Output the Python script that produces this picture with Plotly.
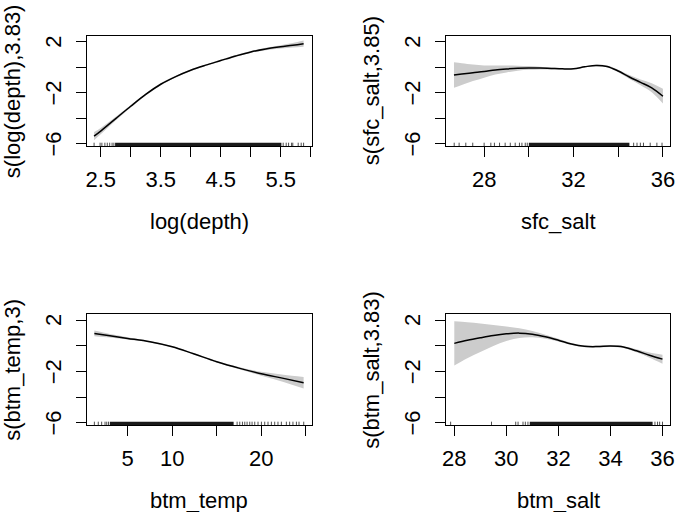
import plotly.graph_objects as go

# ---------------- data ----------------
# Panel 1: s(log(depth),3.83)
depth_x = [2.39, 2.5, 2.75, 3.0, 3.25, 3.5, 3.75, 4.0, 4.25, 4.5, 4.75, 5.0, 5.25, 5.5, 5.7, 5.88]
depth_fit = [-5.40, -5.0, -4.02, -3.05, -2.12, -1.32, -0.72, -0.22, 0.18, 0.54, 0.90, 1.22, 1.45, 1.62, 1.74, 1.87]
depth_se = [0.32, 0.25, 0.15, 0.10, 0.08, 0.07, 0.06, 0.06, 0.06, 0.06, 0.07, 0.08, 0.10, 0.13, 0.18, 0.25]
depth_rug_sparse = [2.39, 2.49, 2.52, 2.57, 2.61, 2.65, 2.69, 2.72, 5.54, 5.59, 5.63, 5.68, 5.70, 5.79, 5.84, 5.88]
depth_rug_dense = [(2.74, 5.51)]

# Panel 2: s(sfc_salt,3.85)
sfc_x = [26.65, 27.0, 27.5, 28.0, 28.5, 29.0, 29.5, 30.0, 30.5, 31.0, 31.5, 32.0, 32.5, 33.0, 33.5, 34.0, 34.5, 35.0, 35.5, 36.0]
sfc_fit = [-0.59, -0.52, -0.42, -0.32, -0.20, -0.12, -0.06, -0.04, -0.05, -0.08, -0.11, -0.10, 0.05, 0.16, 0.08, -0.28, -0.75, -1.17, -1.60, -2.26]
sfc_se = [1.0, 0.85, 0.65, 0.48, 0.36, 0.27, 0.20, 0.15, 0.11, 0.08, 0.06, 0.05, 0.05, 0.06, 0.07, 0.10, 0.15, 0.22, 0.35, 0.58]
sfc_rug_sparse = [26.66, 26.88, 27.18, 27.49, 28.0, 28.3, 28.46, 28.69, 28.94, 29.17, 29.39, 29.58, 29.69, 29.84, 29.93,
                  34.69, 34.84, 34.99, 35.13, 35.43, 35.73, 35.96]
sfc_rug_dense = [(30.0, 34.5)]

# Panel 3: s(btm_temp,3)
temp_x = [1.26, 3.0, 5.0, 7.5, 10.0, 12.4, 15.0, 17.6, 20.0, 22.5, 24.76]
temp_fit = [0.98, 0.79, 0.59, 0.33, -0.06, -0.61, -1.23, -1.75, -2.17, -2.53, -2.87]
temp_se = [0.22, 0.14, 0.09, 0.06, 0.05, 0.05, 0.06, 0.09, 0.15, 0.28, 0.45]
temp_rug_sparse = [1.26, 1.70, 2.08, 2.46, 2.65, 2.85, 17.29, 17.59, 17.89, 18.15, 18.41, 18.71, 18.97, 19.27, 19.64,
                   20.02, 20.39, 20.76, 21.14, 21.51, 21.88, 22.26, 22.82, 23.19, 23.56, 23.95, 24.24, 24.77]
temp_rug_dense = [(3.0, 16.9)]

# Panel 4: s(btm_salt,3.83)
bsalt_x = [28.0, 28.5, 29.0, 29.5, 30.0, 30.5, 31.0, 31.5, 32.0, 32.5, 33.0, 33.5, 34.0, 34.5, 35.0, 35.5, 36.0]
bsalt_fit = [0.20, 0.44, 0.64, 0.82, 0.95, 1.0, 0.92, 0.72, 0.45, 0.15, -0.03, -0.05, -0.01, -0.08, -0.38, -0.72, -1.03]
bsalt_se = [1.72, 1.40, 1.12, 0.82, 0.57, 0.38, 0.25, 0.16, 0.11, 0.08, 0.07, 0.07, 0.07, 0.08, 0.12, 0.20, 0.35]
bsalt_rug_sparse = [27.86, 29.43, 30.36, 30.45, 30.64, 30.73, 30.83, 35.71, 35.81, 35.89, 36.0]
bsalt_rug_dense = [(30.9, 35.62)]

# axis labels / ticks
x_titles = ["log(depth)", "sfc_salt", "btm_temp", "btm_salt"]
y_titles = ["s(log(depth),3.83)", "s(sfc_salt,3.85)", "s(btm_temp,3)", "s(btm_salt,3.83)"]
x_tickvals = [[2.5, 3.0, 3.5, 4.0, 4.5, 5.0, 5.5, 6.0], [28, 30, 32, 34, 36], [5, 10, 15, 20, 25], [28, 30, 32, 34, 36]]
x_ticktext = [["2.5", "", "3.5", "", "4.5", "", "5.5", ""], ["28", "", "32", "", "36"],
              ["5", "10", "", "20", ""], ["28", "30", "32", "34", "36"]]
y_tickvals = [-6, -4, -2, 0, 2]
y_label_vals = [-6, -2, 2]
y_label_text = ["\u22126", "\u22122", "2"]

# ---------------- layout geometry ----------------
W, H = 675, 512
FONT = "Liberation Sans, Arial, Helvetica, sans-serif"
FS = 22
x_ranges = [[2.267, 6.02], [26.28, 36.33], [0.40, 25.7], [27.67, 36.30]]
y_range = [-6.17, 2.47]
col_px = [(86.7, 312.0), (445.7, 670.3)]
row_px = [(36.0, 146.0), (314.3, 425.0)]

panels = [
    (depth_x, depth_fit, depth_se, depth_rug_sparse, depth_rug_dense),
    (sfc_x, sfc_fit, sfc_se, sfc_rug_sparse, sfc_rug_dense),
    (temp_x, temp_fit, temp_se, temp_rug_sparse, temp_rug_dense),
    (bsalt_x, bsalt_fit, bsalt_se, bsalt_rug_sparse, bsalt_rug_dense),
]

fig = go.Figure()
annotations = []
layout = {}
rug_h = 0.03 * (y_range[1] - y_range[0])
tfont = dict(family=FONT, size=FS, color="black")

for i, (xs, fit, se, rug_s, rug_d) in enumerate(panels):
    r, c = divmod(i, 2)
    sfx = "" if i == 0 else str(i + 1)
    xa, ya = "x" + sfx, "y" + sfx
    upper = [f + s for f, s in zip(fit, se)]
    lower = [f - s for f, s in zip(fit, se)]
    fig.add_trace(go.Scatter(x=xs, y=lower, mode="lines", line=dict(width=0, shape="spline"),
                             xaxis=xa, yaxis=ya, showlegend=False, hoverinfo="skip"))
    fig.add_trace(go.Scatter(x=xs, y=upper, mode="lines", line=dict(width=0, shape="spline"),
                             fill="tonexty", fillcolor="#CCCCCC",
                             xaxis=xa, yaxis=ya, showlegend=False, hoverinfo="skip"))
    fig.add_trace(go.Scatter(x=xs, y=fit, mode="lines", line=dict(color="black", width=1.5, shape="spline"),
                             xaxis=xa, yaxis=ya, showlegend=False))
    # rug
    y0 = y_range[0]
    rx, ry = [], []
    for v in rug_s:
        rx += [v, v, None]
        ry += [y0, y0 + rug_h, None]
    fig.add_trace(go.Scatter(x=rx, y=ry, mode="lines", line=dict(color="#222222", width=0.8),
                             xaxis=xa, yaxis=ya, showlegend=False, hoverinfo="skip"))
    for a, b in rug_d:
        fig.add_trace(go.Scatter(x=[a, b, b, a, a], y=[y0, y0, y0 + rug_h, y0 + rug_h, y0],
                                 mode="lines", fill="toself", fillcolor="#1a1a1a", line=dict(width=0),
                                 xaxis=xa, yaxis=ya, showlegend=False, hoverinfo="skip"))

    x0p, x1p = col_px[c]
    y0p, y1p = row_px[r]
    axcommon = dict(showline=True, linecolor="black", linewidth=1, mirror=True, ticks="outside",
                    ticklen=10, tickwidth=1, tickcolor="black", showgrid=False, zeroline=False,
                    automargin=False, ticklabeloverflow="allow", tickfont=tfont)
    layout["xaxis" + sfx] = dict(domain=[x0p / W, x1p / W], range=x_ranges[i], anchor=ya,
                                 tickmode="array", tickvals=x_tickvals[i], ticktext=x_ticktext[i],
                                 ticklabelstandoff=4, **axcommon)
    layout["yaxis" + sfx] = dict(domain=[1 - y1p / H, 1 - y0p / H], range=y_range, anchor=xa,
                                 tickmode="array", tickvals=y_tickvals, showticklabels=False, **axcommon)
    # y tick labels (rotated, as in R)
    for v, t in zip(y_label_vals, y_label_text):
        annotations.append(dict(text=t, xref="paper", yref=ya, x=(x0p - 33) / W, y=v, textangle=-90,
                                xanchor="center", yanchor="middle", showarrow=False, font=tfont))
    # axis titles
    annotations.append(dict(text=x_titles[i], xref="paper", yref="paper",
                            x=(x0p + x1p) / 2 / W, y=1 - (y1p + 75) / H,
                            xanchor="center", yanchor="middle", showarrow=False, font=tfont))
    annotations.append(dict(text=y_titles[i], xref="paper", yref="paper",
                            x=(x0p - 74.5) / W, y=1 - (y0p + y1p) / 2 / H, textangle=-90,
                            xanchor="center", yanchor="middle", showarrow=False, font=tfont))

fig.update_layout(template="none", width=W, height=H, margin=dict(l=0, r=0, t=0, b=0, autoexpand=False),
                  paper_bgcolor="white", plot_bgcolor="white",
                  annotations=annotations, **layout)
fig.write_html("out.html", config={"displayModeBar": False},
               post_script="document.body.style.margin='0';document.body.style.overflow='hidden';")
